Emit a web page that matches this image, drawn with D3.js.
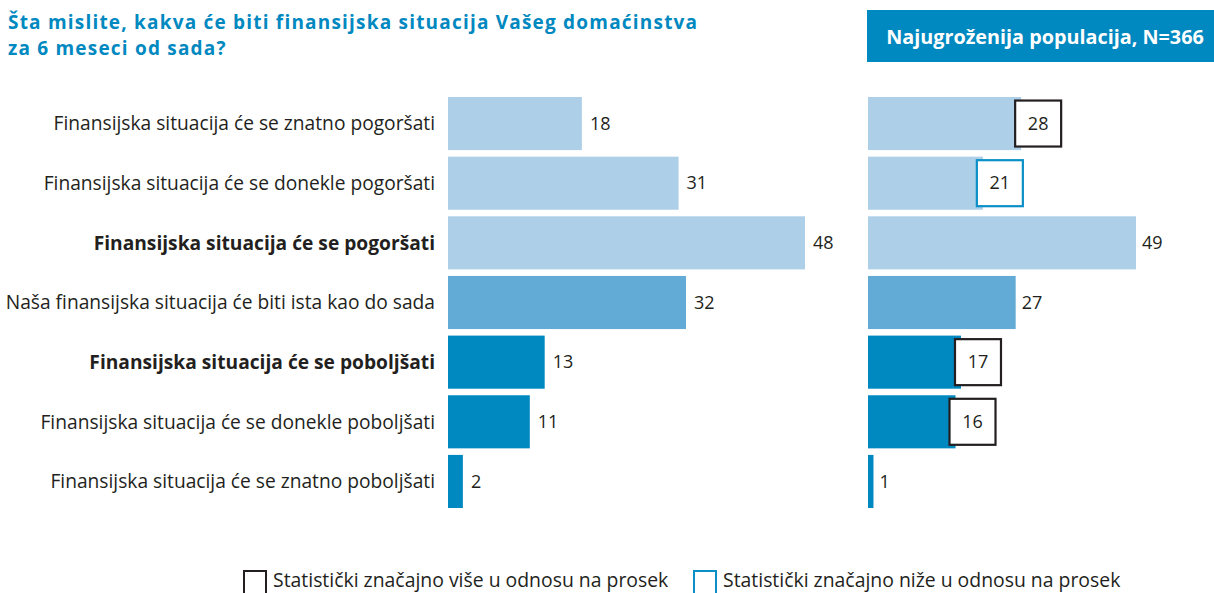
<!DOCTYPE html>
<html>
<head>
<meta charset="utf-8">
<script src="https://cdn.jsdelivr.net/npm/d3@7"></script>
<style>
  html, body { margin: 0; padding: 0; background: #fff; }
  svg { display: block; }
  text { font-family: "Open Sans", "Noto Sans", sans-serif; }
</style>
</head>
<body>
<svg id="chart" width="1214" height="593"></svg>
<script>
// ---------- data ----------
const titleLines = [
  "Šta mislite, kakva će biti finansijska situacija Vašeg domaćinstva",
  "za 6 meseci od sada?"
];
const panelTitle = "Najugroženija populacija, N=366";
const categories = [
  "Finansijska situacija će se znatno pogoršati",
  "Finansijska situacija će se donekle pogoršati",
  "Finansijska situacija će se pogoršati",
  "Naša finansijska situacija će biti ista kao do sada",
  "Finansijska situacija će se poboljšati",
  "Finansijska situacija će se donekle poboljšati",
  "Finansijska situacija će se znatno poboljšati"
];
const boldCategories = [
  "Finansijska situacija će se pogoršati",
  "Finansijska situacija će se poboljšati"
];
const categoryGroups = ["worse", "worse", "worse", "same", "better", "better", "better"];
const totalValues = [18, 31, 48, 32, 13, 11, 2];
const vulnerableValues = [28, 21, 49, 27, 17, 16, 1];
const vulnerableSignificance = ["higher", "lower", null, null, "higher", "higher", null];
const legendKeys = ["higher", "lower"];
const legendLabels = [
  "Statistički značajno više u odnosu na prosek",
  "Statistički značajno niže u odnosu na prosek"
];

// ---------- styles ----------
const textColor = "#231f20";
const titleBlue = "#0088c0";
const groupColor = d3.scaleOrdinal()
  .domain(["worse", "same", "better"])
  .range(["#aecfe8", "#62abd6", "#0088c0"]);
const sigColor = d3.scaleOrdinal()
  .domain(["higher", "lower"])
  .range(["#231f20", "#0a8fc6"]);

const svg = d3.select("#chart");

// ---------- title ----------
svg.append("g").selectAll("text")
  .data(titleLines)
  .join("text")
  .attr("x", 8)
  .attr("y", (d, i) => 28.5 + i * 26)
  .attr("fill", titleBlue)
  .attr("font-size", 19)
  .attr("letter-spacing", 1.2)
  .attr("font-weight", 700)
  .text(d => d);

// panel header
svg.append("rect")
  .attr("x", 867).attr("y", 10)
  .attr("width", 347).attr("height", 52)
  .attr("fill", titleBlue);
svg.append("text")
  .attr("x", 1045).attr("y", 36)
  .attr("text-anchor", "middle")
  .attr("dominant-baseline", "central")
  .attr("fill", "#fff")
  .attr("font-size", 19.8)
  .attr("font-weight", 700)
  .text(panelTitle);

// ---------- scales ----------
const idx = d3.range(categories.length);
const y = d3.scaleBand().domain(idx).range([97, 508]).paddingInner(0.11);
const xL = d3.scaleLinear().domain([0, d3.max(totalValues)]).range([448, 805]);
const xR = d3.scaleLinear().domain([0, d3.max(vulnerableValues)]).range([868, 1136]);

// ---------- category labels ----------
svg.append("g").selectAll("text")
  .data(idx)
  .join("text")
  .attr("x", 435)
  .attr("y", i => y(i) + y.bandwidth() / 2)
  .attr("dy", "0.35em")
  .attr("text-anchor", "end")
  .attr("fill", textColor)
  .attr("font-size", 19.2)
  .attr("font-weight", i => boldCategories.includes(categories[i]) ? 700 : 400)
  .text(i => categories[i]);

// ---------- left panel ----------
const gL = svg.append("g");
gL.selectAll("rect")
  .data(idx)
  .join("rect")
  .attr("x", xL(0))
  .attr("y", i => y(i))
  .attr("width", i => xL(totalValues[i]) - xL(0))
  .attr("height", y.bandwidth())
  .attr("fill", i => groupColor(categoryGroups[i]));
gL.selectAll("text")
  .data(idx)
  .join("text")
  .attr("x", i => xL(totalValues[i]) + 8)
  .attr("y", i => y(i) + y.bandwidth() / 2)
  .attr("dy", "0.35em")
  .attr("fill", textColor)
  .attr("font-size", 18)
  .text(i => totalValues[i]);

// ---------- right panel ----------
const gR = svg.append("g");
gR.selectAll("rect.bar")
  .data(idx)
  .join("rect")
  .attr("class", "bar")
  .attr("x", xR(0))
  .attr("y", i => y(i))
  .attr("width", i => xR(vulnerableValues[i]) - xR(0))
  .attr("height", y.bandwidth())
  .attr("fill", i => groupColor(categoryGroups[i]));

const boxSize = 46;
const sigIdx = idx.filter(i => vulnerableSignificance[i]);
gR.selectAll("rect.sig")
  .data(sigIdx)
  .join("rect")
  .attr("class", "sig")
  .attr("x", i => xR(vulnerableValues[i]) - 6)
  .attr("y", i => y(i) + (y.bandwidth() - boxSize) / 2)
  .attr("width", boxSize)
  .attr("height", boxSize)
  .attr("fill", "#fff")
  .attr("stroke", i => sigColor(vulnerableSignificance[i]))
  .attr("stroke-width", 2.2);

gR.selectAll("text")
  .data(idx)
  .join("text")
  .attr("x", i => vulnerableSignificance[i]
    ? xR(vulnerableValues[i]) - 6 + boxSize / 2
    : xR(vulnerableValues[i]) + 6)
  .attr("text-anchor", i => vulnerableSignificance[i] ? "middle" : "start")
  .attr("y", i => y(i) + y.bandwidth() / 2)
  .attr("dy", "0.35em")
  .attr("fill", textColor)
  .attr("font-size", 18)
  .text(i => vulnerableValues[i]);

// ---------- legend ----------
const legendX = [244, 694];
const lg = svg.append("g").selectAll("g")
  .data(legendKeys)
  .join("g")
  .attr("transform", (d, i) => `translate(${legendX[i]},571)`);
lg.append("rect")
  .attr("x", 0).attr("y", 0)
  .attr("width", 22).attr("height", 30)
  .attr("fill", "none")
  .attr("stroke", d => sigColor(d))
  .attr("stroke-width", 2);
lg.append("text")
  .attr("x", 29)
  .attr("y", 16)
  .attr("fill", textColor)
  .attr("font-size", 19.4)
  .text((d, i) => legendLabels[i]);
</script>
</body>
</html>
